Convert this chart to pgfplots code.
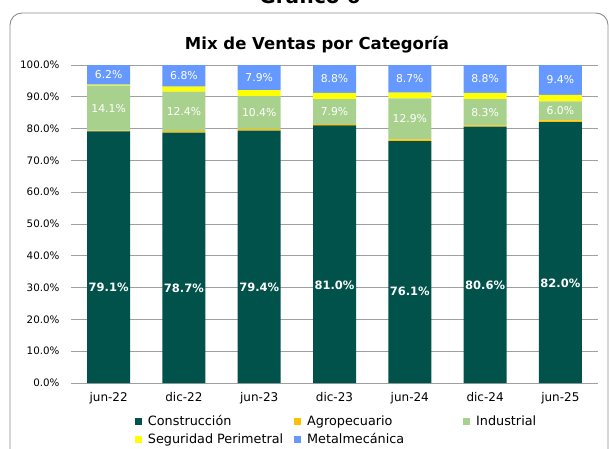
\documentclass[border=0pt]{standalone}
\usepackage{pgfplots}
\pgfplotsset{compat=1.18}
\usepackage{fontspec}
\setmainfont{DejaVu Sans}
\definecolor{cons}{HTML}{00524A}
\definecolor{agro}{HTML}{FFC000}
\definecolor{indu}{HTML}{A9D18E}
\definecolor{segu}{HTML}{FFFF00}
\definecolor{meta}{HTML}{6699FF}
\definecolor{gridc}{HTML}{A0A0A0}
\tikzset{
  lb/.style={text=white, font=\bfseries\fontsize{11.5}{13}\selectfont},
  ls/.style={text=white, font=\fontsize{10.8}{12}\selectfont}
}
\pgfplotsset{sq legend/.style={legend image code/.code={\fill[##1] (0pt,-3.5pt) rectangle (7pt,3.5pt);}}}
\begin{document}
\begin{tikzpicture}
\useasboundingbox (0,0) rectangle (609pt,448pt);
\draw[gray!90, line width=0.9pt, rounded corners=12pt] (10pt,-20pt) rectangle (608pt,435pt);
\node[font=\bfseries\fontsize{20}{22}\selectfont] at (310pt,452pt) {Gráfico 6};
\node[font=\bfseries\fontsize{16.5}{19}\selectfont] at (317pt,403pt) {Mix de Ventas por Categoría};
\begin{axis}[
  at={(71pt,65pt)}, anchor=south west,
  scale only axis, width=527pt, height=318pt,
  ybar stacked, bar width=43pt,
  xmin=-0.5, xmax=6.5, ymin=0, ymax=100,
  xtick={0,...,6},
  xticklabels={jun-22,dic-22,jun-23,dic-23,jun-24,dic-24,jun-25},
  ytick={0,10,...,100},
  yticklabels={0.0\%,10.0\%,20.0\%,30.0\%,40.0\%,50.0\%,60.0\%,70.0\%,80.0\%,90.0\%,100.0\%},
  yticklabel style={font=\fontsize{10.3}{12}\selectfont, xshift=-8pt},
  xticklabel style={font=\fontsize{12}{14}\selectfont, yshift=-6pt},
  ymajorgrids, major grid style={gridc, line width=0.8pt},
  major tick length=0pt,
  axis line style={draw=none},
  legend columns=3,
  legend cell align=left,
  legend style={at={(0.121,-0.096)}, anchor=north west, draw=none, fill=none,
    font=\fontsize{12.8}{15}\selectfont, inner sep=0pt, row sep=2pt,
    /tikz/every odd column/.append style={column sep=4pt},
    /tikz/every even column/.append style={column sep=9pt}},
  sq legend,
  clip=false,
]
\addplot[fill=cons, draw=none] coordinates {(0,79.1) (1,78.7) (2,79.4) (3,81.0) (4,76.1) (5,80.6) (6,82.0)};
\addlegendentry{Construcción}
\addplot[fill=agro, draw=none] coordinates {(0,0.3) (1,0.5) (2,0.4) (3,0.4) (4,0.5) (5,0.4) (6,0.6)};
\addlegendentry{\makebox[145pt][l]{Agropecuario}}
\addplot[fill=indu, draw=none] coordinates {(0,14.1) (1,12.4) (2,10.4) (3,7.9) (4,12.9) (5,8.3) (6,6.0)};
\addlegendentry{Industrial}
\addplot[fill=segu, draw=none] coordinates {(0,0.3) (1,1.6) (2,1.9) (3,1.9) (4,1.8) (5,1.9) (6,2.0)};
\addlegendentry{Seguridad Perimetral}
\addplot[fill=meta, draw=none] coordinates {(0,6.2) (1,6.8) (2,7.9) (3,8.8) (4,8.7) (5,8.8) (6,9.4)};
\addlegendentry{Metalmecánica}
\coordinate (a0) at (axis cs:0,30.1);
\coordinate (a1) at (axis cs:1,29.9);
\coordinate (a2) at (axis cs:2,30.2);
\coordinate (a3) at (axis cs:3,30.8);
\coordinate (a4) at (axis cs:4,28.9);
\coordinate (a5) at (axis cs:5,30.6);
\coordinate (a6) at (axis cs:6,31.2);
\coordinate (b0) at (axis cs:0,86.45);
\coordinate (b1) at (axis cs:1,85.4);
\coordinate (b2) at (axis cs:2,85.0);
\coordinate (b3) at (axis cs:3,85.35);
\coordinate (b4) at (axis cs:4,83.05);
\coordinate (b5) at (axis cs:5,85.15);
\coordinate (b6) at (axis cs:6,85.6);
\coordinate (m0) at (axis cs:0,96.9);
\coordinate (m1) at (axis cs:1,96.6);
\coordinate (m2) at (axis cs:2,96.05);
\coordinate (m3) at (axis cs:3,95.6);
\coordinate (m4) at (axis cs:4,95.65);
\coordinate (m5) at (axis cs:5,95.6);
\coordinate (m6) at (axis cs:6,95.3);
\end{axis}
\node[lb] at (a0) {79.1\%};
\node[lb] at (a1) {78.7\%};
\node[lb] at (a2) {79.4\%};
\node[lb] at (a3) {81.0\%};
\node[lb] at (a4) {76.1\%};
\node[lb] at (a5) {80.6\%};
\node[lb] at (a6) {82.0\%};
\node[ls] at (b0) {14.1\%};
\node[ls] at (b1) {12.4\%};
\node[ls] at (b2) {10.4\%};
\node[ls] at (b3) {7.9\%};
\node[ls] at (b4) {12.9\%};
\node[ls] at (b5) {8.3\%};
\node[ls] at (b6) {6.0\%};
\node[ls] at (m0) {6.2\%};
\node[ls] at (m1) {6.8\%};
\node[ls] at (m2) {7.9\%};
\node[ls] at (m3) {8.8\%};
\node[ls] at (m4) {8.7\%};
\node[ls] at (m5) {8.8\%};
\node[ls] at (m6) {9.4\%};
\end{tikzpicture}
\end{document}
